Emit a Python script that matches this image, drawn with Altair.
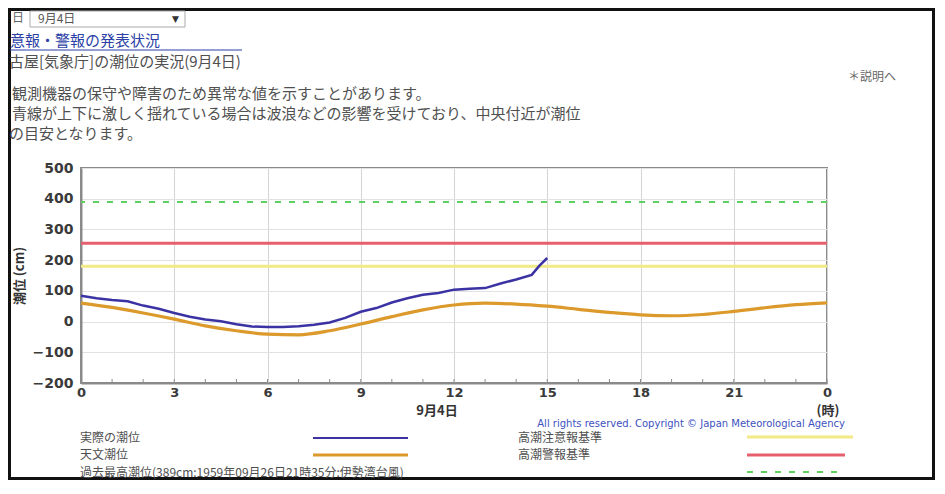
import altair as alt
import pandas as pd

# ---------------- data ----------------
actual_hours = [0, 0.5, 1, 1.5, 2, 2.5, 3, 3.5, 4, 4.5, 5, 5.5, 6, 6.5, 7, 7.5, 8, 8.5,
                9, 9.5, 10, 10.5, 11, 11.5, 12, 12.5, 13, 13.5, 14, 14.5, 14.75, 15]
actual_cm = [84, 76, 70, 66, 52, 42, 28, 16, 7, 1, -9, -16, -18, -18, -15, -10, -3, 12,
             32, 44, 62, 76, 87, 93, 104, 107, 109, 124, 137, 152, 182, 207]

astro_hours = list(range(25))
astro_cm = [60, 46, 28, 8, -14, -30, -41, -43, -30, -8, 16, 38, 54, 60, 57, 50, 40,
            30, 22, 19, 23, 33, 45, 55, 61]

x_ticks = [0, 3, 6, 9, 12, 15, 18, 21, 24]
y_ticks = [-200, -100, 0, 100, 200, 300, 400, 500]
minor_hours = list(range(25))

advisory_cm = 180   # 高潮注意報基準
warning_cm = 255    # 高潮警報基準
record_cm = 389     # 過去最高潮位

top_texts = {
    "day": "日",
    "select": "9月4日",
    "link": "意報・警報の発表状況",
    "station": "古屋[気象庁]の潮位の実況(9月4日)",
    "help": "＊説明へ",
    "note1": "観測機器の保守や障害のため異常な値を示すことがあります。",
    "note2": "青線が上下に激しく揺れている場合は波浪などの影響を受けており、中央付近が潮位",
    "note3": "の目安となります。",
}
legend_texts = {
    "actual": "実際の潮位",
    "astro": "天文潮位",
    "record": "過去最高潮位(389cm:1959年09月26日21時35分:伊勢湾台風)",
    "advisory": "高潮注意報基準",
    "warning": "高潮警報基準",
}
y_title = "潮位 (cm)"
date_label = "9月4日"
hour_unit = "(時)"
copyright_text = "All rights reserved. Copyright © Japan Meteorological Agency"

# ---------------- layout ----------------
W, H = 746, 215
JP = "Noto Sans CJK JP"
NUM = "DejaVu Sans"

xs = alt.Scale(domain=[0, 24], nice=False, zero=False)
ys = alt.Scale(domain=[-200, 500], nice=False, zero=False)

xaxis = alt.Axis(values=x_ticks, labelExpr="datum.value == 24 ? '0' : datum.label",
                 title=None, grid=True, gridColor="#d4d4d4", ticks=False,
                 labelPadding=3, labelFont=NUM, labelFontWeight="bold", labelFontSize=13,
                 labelColor="#3a3a3a", domainColor="#8a8a8a", domainWidth=2,
                 labelFlush=False)
yaxis = alt.Axis(values=y_ticks, title=None, grid=True, gridColor="#e2e2e2", ticks=False,
                 labelPadding=8, labelFont=NUM, labelFontWeight="bold", labelFontSize=14,
                 labelColor="#3a3a3a", domainColor="#8a8a8a", domainWidth=2)

X = lambda f: alt.X(f, scale=xs, axis=xaxis)
Y = lambda f: alt.Y(f, scale=ys, axis=yaxis)


def one(v="x"):
    return pd.DataFrame({"t": [v]})


def txt(s, x, y, size=16, color="#505050", weight="normal", align="left",
        font=JP, angle=0):
    return alt.Chart(one(s)).mark_text(
        align=align, baseline="middle", fontSize=size, color=color,
        fontWeight=weight, font=font, angle=angle
    ).encode(x=alt.value(x), y=alt.value(y), text="t:N")


def seg(x1, x2, y, color, width, dash=None):
    kw = dict(color=color, strokeWidth=width)
    if dash:
        kw["strokeDash"] = dash
    return alt.Chart(one()).mark_rule(**kw).encode(
        x=alt.value(x1), x2=alt.value(x2), y=alt.value(y))


def box(x1, x2, y1, y2, stroke, width, fill="#ffffff", fill_opacity=0.0):
    return alt.Chart(one()).mark_rect(
        stroke=stroke, strokeWidth=width, fill=fill, fillOpacity=fill_opacity
    ).encode(x=alt.value(x1), x2=alt.value(x2), y=alt.value(y1), y2=alt.value(y2))


astro_df = pd.DataFrame({"hour": astro_hours, "cm": astro_cm})
actual_df = pd.DataFrame({"hour": actual_hours, "cm": actual_cm})

C_BLUE = "#3b33a3"
C_ORANGE = "#dc9a2c"
C_RED = "#e5606c"
C_YELLOW = "#f2ea86"
C_GREEN = "#5fcf5f"

orange = alt.Chart(astro_df).mark_line(
    color=C_ORANGE, strokeWidth=3.2, interpolate="monotone"
).encode(x=X("hour:Q"), y=Y("cm:Q"))

blue = alt.Chart(actual_df).mark_line(
    color=C_BLUE, strokeWidth=2.5, interpolate="linear"
).encode(x=X("hour:Q"), y=Y("cm:Q"))


def level(v, color, width, dash=None):
    kw = dict(color=color, strokeWidth=width)
    if dash:
        kw["strokeDash"] = dash
    return alt.Chart(pd.DataFrame({"cm": [v]})).mark_rule(**kw).encode(y=Y("cm:Q"))


yellow_rule = level(advisory_cm, C_YELLOW, 3)
red_rule = level(warning_cm, C_RED, 3)
green_rule = level(record_cm, C_GREEN, 2, [6, 8])

minor = alt.Chart(pd.DataFrame({"hour": minor_hours})).mark_rule(
    color="#8a8a8a", strokeWidth=1
).encode(x=X("hour:Q"), y=alt.value(H - 4), y2=alt.value(H))

layers = [
    orange, yellow_rule, red_rule, green_rule, minor, blue,
    # page frame
    box(-71.5, 852.5, -158.5, 310.5, "#111111", 3),
    # top page area
    txt(top_texts["day"], -69, -150, size=12, color="#666666"),
    box(-51, 104, -157, -141, "#aaaaaa", 1, fill="#ffffff", fill_opacity=1),
    txt(top_texts["select"], -43, -149, size=12, color="#555555"),
    txt("▼", 91, -149, size=9, color="#333333", font=NUM),
    txt(top_texts["link"], -71, -127, size=15, color="#2b3fa6"),
    seg(-71, 161, -118, "#2b3fa6", 1),
    txt(top_texts["station"], -72, -106, size=15),
    txt(top_texts["help"], 767, -91, size=12, color="#666666"),
    txt(top_texts["note1"], -69, -74, size=15),
    txt(top_texts["note2"], -69, -54, size=15),
    txt(top_texts["note3"], -72, -34, size=15),
    # chart annotations
    txt(y_title, -61, 108, size=13, color="#333333", weight="bold", align="center",
        angle=270),
    txt(date_label, 356, 243, size=13, color="#333333", weight="bold", align="center"),
    txt(hour_unit, 747, 243, size=13, color="#333333", weight="bold", align="center"),
    txt(copyright_text, 764, 256, size=10, color="#4052c0", align="right", font=NUM),
    # legend
    txt(legend_texts["actual"], -1, 269.5, size=12),
    seg(232, 327, 270, C_BLUE, 2),
    txt(legend_texts["astro"], -1, 287, size=12),
    seg(232, 327, 287, C_ORANGE, 3),
    txt(legend_texts["record"], -1, 304.5, size=12),
    txt(legend_texts["advisory"], 437, 269.5, size=12),
    seg(666, 772, 269, C_YELLOW, 3),
    txt(legend_texts["warning"], 437, 287, size=12),
    seg(666, 764, 287, C_RED, 3),
    seg(666, 756, 304, C_GREEN, 2, [6, 8]),
]

chart = alt.layer(*layers).properties(
    width=W, height=H,
    autosize=alt.AutoSizeParams(type="none"),
    padding={"left": 73, "top": 160, "right": 108, "bottom": 97},
    background="#ffffff",
).configure_view(stroke="#8a8a8a", strokeWidth=2)

chart.save("out.html", embed_options={"renderer": "svg", "actions": False})
